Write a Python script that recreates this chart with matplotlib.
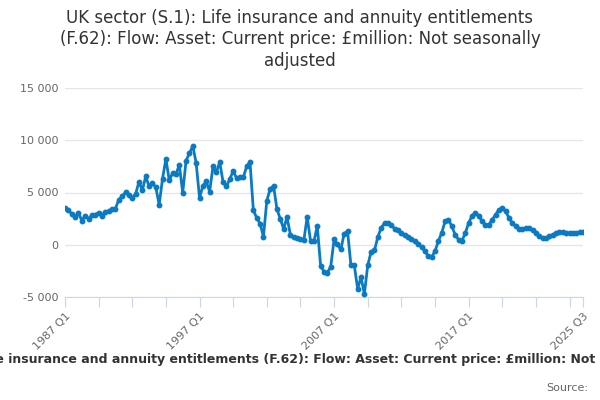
import numpy as np
import matplotlib.pyplot as plt

# quarterly series, 1987 Q1 .. 2025 Q3 (GBP million)
start_year = 1987
vals_1987_1996 = [3490, 3330, 2950, 2670, 3050, 2320, 2790, 2480, 2830, 2890,
                  3080, 2790, 3175, 3200, 3430, 3460, 4320, 4640, 5020, 4760,
                  4480, 4860, 6030, 5200, 6540, 5590, 5900, 5490, 3840, 6320,
                  8220, 6160, 6860, 6790, 7620, 4980, 8060, 8760, 9460, 7810]
vals_1997_2006 = [4480, 5650, 6060, 5080, 7490, 6950, 7900, 6000, 5590, 6290,
                  7050, 6380, 6480, 6440, 7490, 7940, 3300, 2570, 2030, 760,
                  4220, 5330, 5650, 3430, 2480, 1520, 2630, 980, 760, 670,
                  510, 410, 2670, 350, 320, 1780, -2030, -2570, -2670, -2100]
vals_2007_2016 = [510, 30, -450, 1060, 1310, -1950, -1950, -4220, -3100, -4700,
                  -1980, -670, -540, 740, 1630, 2080, 2080, 1860, 1540, 1380,
                  1150, 930, 740, 580, 350, 100, -220, -610, -1090, -1180,
                  -610, 350, 1150, 2240, 2400, 1760, 960, 480, 380, 1120]
vals_2017_2025 = [2080, 2780, 3040, 2780, 2240, 1920, 1920, 2400, 2880, 3360,
                  3520, 3200, 2560, 2080, 1760, 1500, 1500, 1570, 1600, 1440,
                  1120, 860, 640, 640, 800, 960, 1120, 1180, 1180, 1120,
                  1120, 1120, 1120, 1180, 1180]

values = vals_1987_1996 + vals_1997_2006 + vals_2007_2016 + vals_2017_2025
quarters = ['%d Q%d' % (start_year + k // 4, k % 4 + 1) for k in range(len(values))]
x = np.arange(len(values))

title = ('UK sector (S.1): Life insurance and annuity entitlements\n'
         '(F.62): Flow: Asset: Current price: \u00a3million: Not seasonally\nadjusted')
series_name = ('UK sector (S.1): Life insurance and annuity entitlements (F.62): '
               'Flow: Asset: Current price: \u00a3million: Not seasonally adjusted')

fig = plt.figure(figsize=(6, 4), dpi=100)
ax = fig.add_axes([0.1083, 0.2575, 0.8634, 0.5225])

ax.plot(x, values, color='#0a7bc2', lw=2, marker='o', ms=3.2, zorder=3)

ax.set_xlim(0, len(values) - 1)
ax.set_ylim(-5000, 15000)
ax.set_yticks([-5000, 0, 5000, 10000, 15000])
ax.set_yticklabels(['-5 000', '0', '5 000', '10 000', '15 000'])
ax.grid(axis='y', color='#e6e6e6', lw=1)
ax.set_axisbelow(True)

ticks = list(range(0, len(values) - 1, 10)) + [len(values) - 1]
ax.set_xticks(ticks)
lab_pos = [0, 40, 80, 120, len(values) - 1]
ax.set_xticklabels([quarters[t] if t in lab_pos else '' for t in ticks],
                   rotation=45, ha='right', rotation_mode='anchor')

for s in ['top', 'right', 'left']:
    ax.spines[s].set_visible(False)
ax.spines['bottom'].set_color('#ccd6eb')
ax.tick_params(axis='x', colors='#ccd6eb', length=7, labelcolor='#666666', labelsize=8, pad=3)
ax.tick_params(axis='y', length=0, labelcolor='#666666', labelsize=8, pad=5)

fig.text(0.5, 0.978, title, ha='center', va='top', fontsize=12, color='#333333', linespacing=1.25)
fig.text(0.5, 0.1, series_name, ha='center', va='center', fontsize=9, fontweight='bold', color='#333333')
fig.text(0.98, 0.03, 'Source:', ha='right', va='center', fontsize=8, color='#666666')

fig.savefig('out.png', dpi=100)
